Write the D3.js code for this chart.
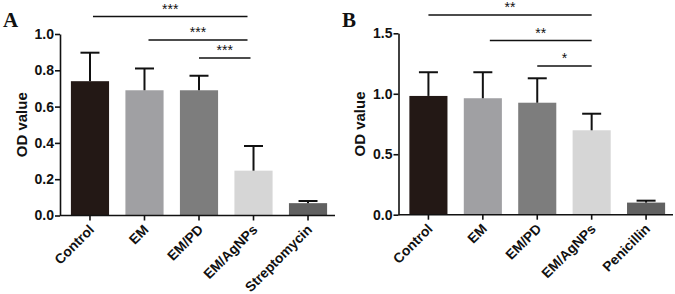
<!DOCTYPE html>
<html><head><meta charset="utf-8">
<script src="https://cdn.jsdelivr.net/npm/d3@7"></script>
<style>body{margin:0;background:#fff}svg{display:block}</style>
</head><body>
<script>
// Panel A data
const catsA = ["Control","EM","EM/PD","EM/AgNPs","Streptomycin"];
const meansA = [0.74, 0.69, 0.69, 0.247, 0.068];
const errTopA = [0.897, 0.81, 0.77, 0.383, 0.08];
const ticksA = [0.0, 0.2, 0.4, 0.6, 0.8, 1.0];
const sigA = [{from:0,to:3,label:"***"},{from:1,to:3,label:"***"},{from:2,to:3,label:"***"}];
// Panel B data
const catsB = ["Control","EM","EM/PD","EM/AgNPs","Penicillin"];
const meansB = [0.982, 0.963, 0.926, 0.698, 0.10];
const errTopB = [1.178, 1.178, 1.128, 0.835, 0.116];
const ticksB = [0.0, 0.5, 1.0, 1.5];
const sigB = [{from:0,to:3,label:"**"},{from:1,to:3,label:"**"},{from:2,to:3,label:"*"}];
const colors = ["#231815","#a0a0a3","#7d7d7d","#d6d6d6","#616161"];

const W = 675, H = 294;
const svg = d3.select("body").append("svg").attr("width", W).attr("height", H);

function panel(cfg){
  const g = svg.append("g");
  const y = d3.scaleLinear().domain([0, cfg.ymax]).range([cfg.y0, cfg.y1]);
  const x = d3.scaleBand().domain(cfg.cats).range([cfg.x0, cfg.x1]).paddingInner(0.3).paddingOuter(0.2);
  // bars
  g.selectAll("rect.bar").data(cfg.cats).enter().append("rect")
    .attr("x", d => x(d)).attr("width", x.bandwidth())
    .attr("y", (d,i) => y(cfg.means[i]))
    .attr("height", (d,i) => y(0) - y(cfg.means[i]))
    .attr("fill", (d,i) => colors[i]);
  // error bars
  cfg.cats.forEach((c,i) => {
    const cx = x(c) + x.bandwidth()/2;
    g.append("line").attr("x1",cx).attr("x2",cx).attr("y1",y(cfg.means[i])).attr("y2",y(cfg.errTop[i]))
      .attr("stroke","#111").attr("stroke-width",2);
    g.append("line").attr("x1",cx-9.5).attr("x2",cx+9.5).attr("y1",y(cfg.errTop[i])).attr("y2",y(cfg.errTop[i]))
      .attr("stroke","#111").attr("stroke-width",2);
  });
  // y axis
  const ya = g.append("g").attr("transform",`translate(${cfg.x0},0)`)
    .call(d3.axisLeft(y).tickValues(cfg.ticks).tickFormat(d3.format(".1f")).tickSize(5).tickSizeOuter(0));
  ya.select(".domain").attr("stroke","#111").attr("stroke-width",1.6);
  ya.selectAll(".tick line").attr("stroke","#111").attr("stroke-width",1.6);
  ya.selectAll(".tick text").attr("font-family","Liberation Sans, Arial, sans-serif")
    .attr("font-weight","bold").attr("font-size",14).attr("fill","#111").attr("x",-6);
  // x axis
  const xa = g.append("g").attr("transform",`translate(0,${cfg.y0})`)
    .call(d3.axisBottom(x).tickSize(5).tickSizeOuter(0));
  xa.select(".domain").attr("stroke","#111").attr("stroke-width",1.6).attr("d",`M${cfg.x0},0H${cfg.axisEnd}`);
  xa.selectAll(".tick line").attr("stroke","#111").attr("stroke-width",1.6);
  xa.selectAll(".tick text").attr("font-family","Liberation Sans, Arial, sans-serif")
    .attr("font-weight","bold").attr("font-size",13.8).attr("fill","#111")
    .attr("text-anchor","end").attr("dy",0).attr("y",0)
    .attr("transform","translate(5,15) rotate(-45)");
  // y label
  g.append("text").attr("transform",`translate(${cfg.labelX},${(cfg.y0+cfg.y1)/2}) rotate(-90)`)
    .attr("text-anchor","middle").attr("font-family","Liberation Sans, Arial, sans-serif")
    .attr("font-weight","bold").attr("font-size",15).attr("fill","#111").text("OD value");
  // panel letter
  g.append("text").attr("x",cfg.letterX).attr("y",27).attr("font-family","Liberation Serif, Times New Roman, serif")
    .attr("font-weight","bold").attr("font-size",21).attr("fill","#111").text(cfg.letter);
  // significance
  cfg.sig.forEach((s,k) => {
    const xa1 = x(cfg.cats[s.from]) + x.bandwidth()/2 + cfg.sigOffset[k];
    const xa2 = x(cfg.cats[s.to]) + x.bandwidth()/2 + cfg.sigEndOffset[k];
    const ly = cfg.sigY[k];
    g.append("line").attr("x1",xa1).attr("x2",xa2).attr("y1",ly).attr("y2",ly)
      .attr("stroke","#111").attr("stroke-width",1.5);
    g.append("text").attr("x",(xa1+xa2)/2).attr("y",ly-3).attr("text-anchor","middle")
      .attr("font-family","Liberation Sans, Arial, sans-serif").attr("font-size",14).attr("fill","#111")
      .text(s.label);
  });
}

panel({cats:catsA, means:meansA, errTop:errTopA, ticks:ticksA, ymax:1.0, sig:sigA,
  x0:60, x1:338, y0:215.5, y1:34, axisEnd:335, labelX:27, letter:"A", letterX:3,
  sigY:[16.5,40,58], sigOffset:[3,4,0], sigEndOffset:[-6,-6,-3]});
panel({cats:catsB, means:meansB, errTop:errTopB, ticks:ticksB, ymax:1.5, sig:sigB,
  x0:398.5, x1:676, y0:214.7, y1:33.3, axisEnd:673, labelX:365, letter:"B", letterX:342,
  sigY:[15,40.5,66], sigOffset:[0,7,0], sigEndOffset:[0,0,0]});
</script>
</body></html>
